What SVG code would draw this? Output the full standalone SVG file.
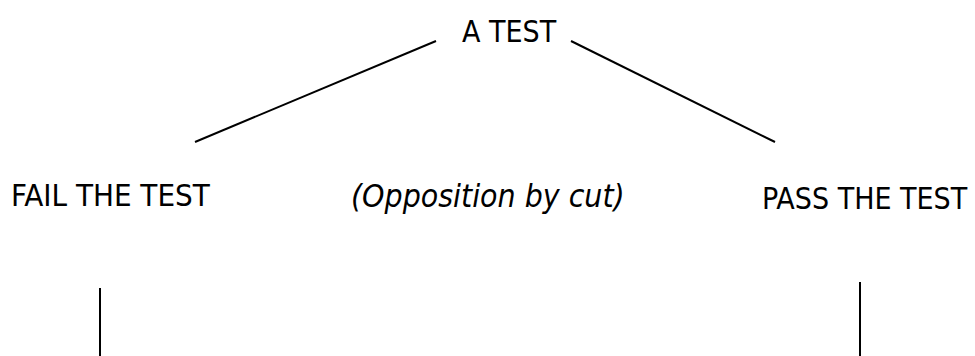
<svg xmlns="http://www.w3.org/2000/svg" width="975" height="356" viewBox="0 0 975 356">
<style>
.t{font-family:"DejaVu Sans Condensed","DejaVu Sans",sans-serif;font-stretch:condensed;font-size:30px;fill:#000}
.i{font-style:italic;font-size:31.7px}
.f{font-size:31px}
.c{stroke:#000;stroke-width:2;fill:none}
</style>
<rect width="975" height="356" fill="#fff"/>
<g id="connectors">
<line class="c" x1="195" y1="142" x2="436" y2="41"/>
<line class="c" x1="571" y1="41" x2="775" y2="142"/>
<line class="c" x1="100" y1="288" x2="100" y2="356"/>
<line class="c" x1="860" y1="282" x2="860" y2="356"/>
</g>
<g id="node-test"><text class="t" x="462" y="42">A TEST</text></g>
<g id="node-fail"><text class="t f" x="11" y="206">FAIL THE TEST</text></g>
<g id="node-opposition"><text class="t i" x="351" y="206.5">(Opposition by cut)</text></g>
<g id="node-pass"><text class="t" x="762" y="209">PASS THE TEST</text></g>
</svg>
